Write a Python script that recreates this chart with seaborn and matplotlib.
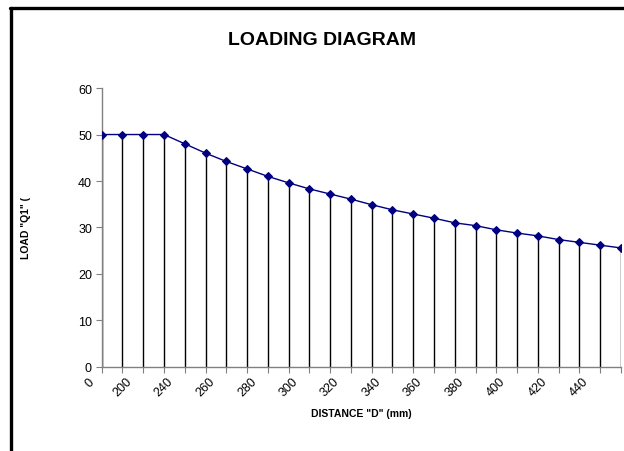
import numpy as np
import pandas as pd
import matplotlib
matplotlib.use("Agg")
import matplotlib.pyplot as plt
import matplotlib.transforms as mtransforms
from matplotlib.lines import Line2D
import seaborn as sns

sns.set_style("white")
plt.rcParams['font.family'] = ['Liberation Sans', 'DejaVu Sans']
plt.rcParams['text.color'] = 'black'
plt.rcParams['axes.labelcolor'] = 'black'

# categories along the x axis (one per point) and the labels Excel showed
positions = list(range(26))
tick_labels = ["0", "200", "", "240", "", "260", "", "280", "", "300", "", "320", "",
               "340", "", "360", "", "380", "", "400", "", "420", "", "440", "", ""]
load_q1 = [50, 50, 50, 50, 48.0, 46.0, 44.2, 42.6, 41.0, 39.6, 38.3, 37.2, 36.1,
           34.9, 33.8, 32.9, 32.0, 31.0, 30.4, 29.5, 28.8, 28.2, 27.4, 26.8, 26.2, 25.6]

df = pd.DataFrame({"pos": positions, "load": load_q1})

fig = plt.figure(figsize=(6.24, 4.52), dpi=100)
ax = fig.add_axes([0.163, 0.186, 0.832, 0.617])

# drop lines from each point to the axis
ax.vlines(df["pos"], 0, df["load"], color="black", lw=1.0, zorder=1)
sns.lineplot(data=df, x="pos", y="load", ax=ax, color="#000080", lw=1,
             marker="D", markersize=4.5, markeredgecolor="#000080", zorder=3)

ax.set_xlim(0, 25)
ax.set_ylim(0, 60)
ax.set_yticks([0, 10, 20, 30, 40, 50, 60])
ax.set_xticks(positions)
ax.set_xticklabels(tick_labels, rotation=45, ha="center", fontsize=9)
ax.tick_params(axis="y", labelsize=9, length=4, direction="out", left=True,
               color="#808080", labelcolor="black", pad=3)
ax.tick_params(axis="x", length=4, direction="out", bottom=True, color="#808080",
               labelcolor="black", pad=2)
# first label sits a little left of its tick in the original
first = ax.get_xticklabels()[0]
first.set_transform(first.get_transform() +
                    mtransforms.ScaledTranslation(-0.12, 0, fig.dpi_scale_trans))

for s in ["top", "right"]:
    ax.spines[s].set_visible(False)
for s in ["left", "bottom"]:
    ax.spines[s].set_color("#808080")
    ax.spines[s].set_linewidth(1)

ax.set_xlabel('DISTANCE "D" (mm)', fontsize=7.5, fontweight="bold", labelpad=7)
ax.set_ylabel('LOAD "Q1" (', fontsize=7.5, fontweight="bold", labelpad=34)

fig.text(0.516, 0.91, "LOADING DIAGRAM", ha="center", va="center",
         fontsize=14, fontweight="bold", color="black")

# chart-area border (left and top edges visible)
fig.add_artist(Line2D([0.017, 0.017], [0.0, 0.979], color="black", lw=2.4,
                      transform=fig.transFigure))
fig.add_artist(Line2D([0.0155, 1.0], [0.979, 0.979], color="black", lw=2.4,
                      transform=fig.transFigure))

fig.savefig("out.png", dpi=100)
